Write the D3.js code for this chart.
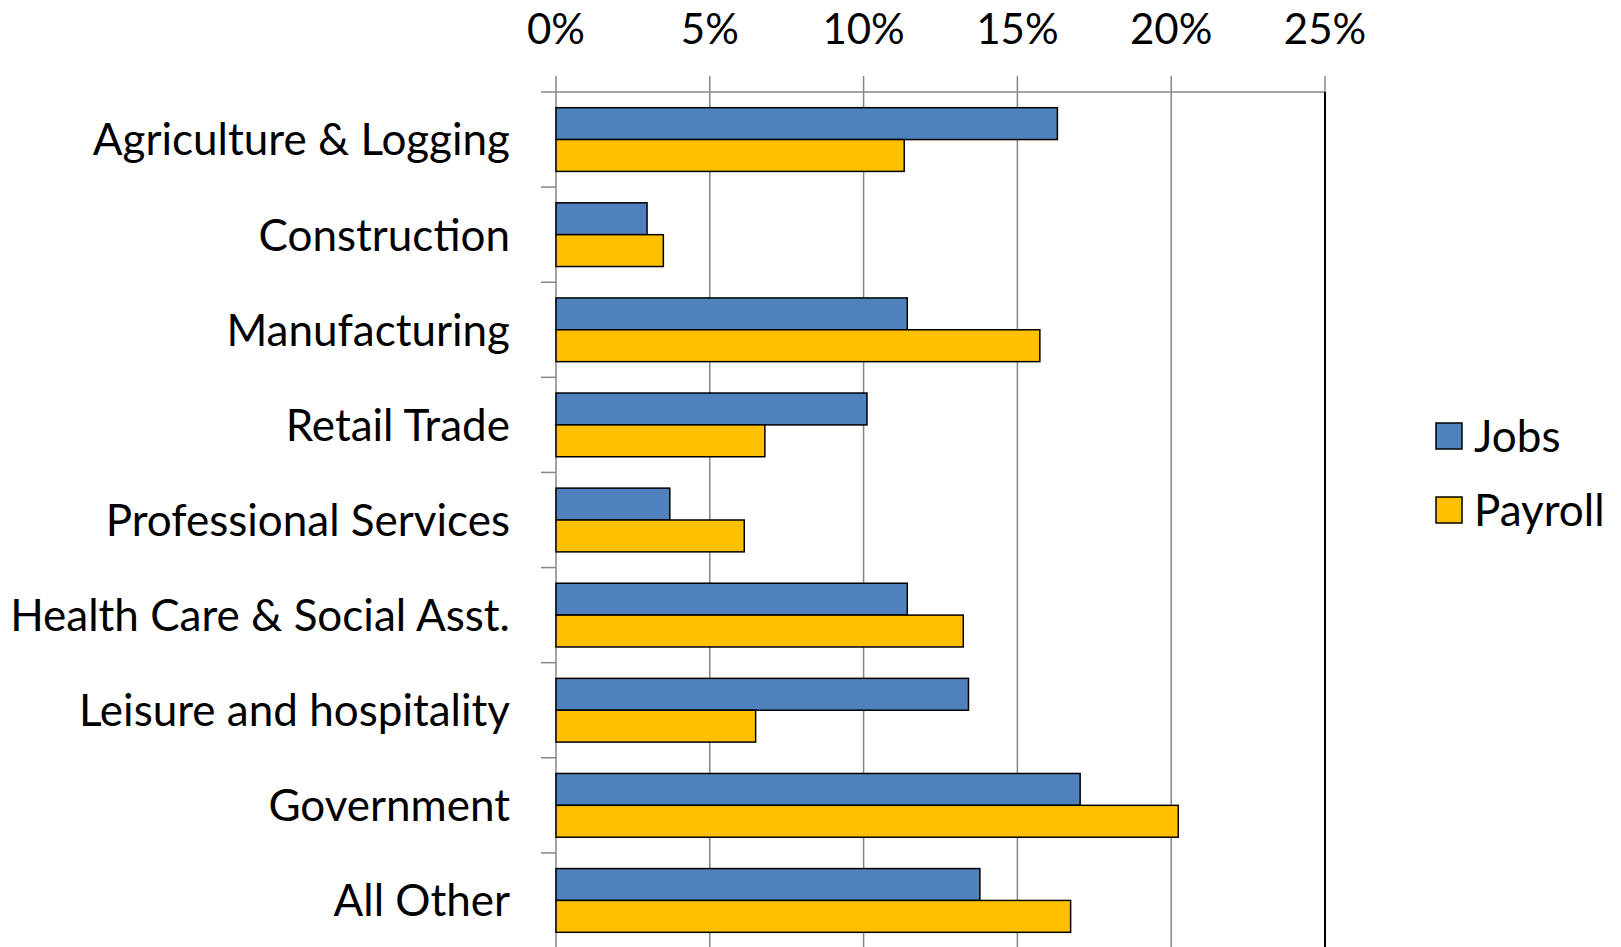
<!DOCTYPE html>
<html lang="en">
<head>
<meta charset="utf-8">
<title>Jobs and Payroll by Industry</title>
<style>
  body { margin: 0; background: #fff; }
  svg text { font-family: Lato, "Open Sans", sans-serif; fill: #000; }
  .grid line { stroke: #868686; stroke-width: 1.5px; }
  .bar { stroke: #000; stroke-width: 1.5px; }
</style>
</head>
<body>
<script src="https://cdnjs.cloudflare.com/ajax/libs/d3/7.8.5/d3.min.js"></script>
<script>
  // data
  const categories = ["Agriculture & Logging", "Construction", "Manufacturing", "Retail Trade",
    "Professional Services", "Health Care & Social Asst.", "Leisure and hospitality",
    "Government", "All Other"];
  const jobs    = [16.3, 2.96, 11.42, 10.11, 3.70, 11.42, 13.41, 17.04, 13.78];
  const payroll = [11.32, 3.49, 15.73, 6.79, 6.12, 13.24, 6.49, 20.23, 16.73];
  const seriesNames = ["Jobs", "Payroll"];
  const seriesColors = ["#4F81BD", "#FFC000"];
  const xTicks = [0, 5, 10, 15, 20, 25];

  const width = 1621, height = 947;
  const plot = {left: 556, right: 1325, top: 92, bottom: 948};

  const svg = d3.select("body").append("svg")
    .attr("width", width)
    .attr("height", height);

  const x = d3.scaleLinear().domain([0, 25]).range([plot.left, plot.right]);
  const y = d3.scaleBand().domain(categories).range([plot.top, plot.bottom]).paddingInner(0.33).paddingOuter(0.165);
  const y0 = d3.scaleBand().domain(categories).range([plot.top, plot.bottom]);
  const ySub = d3.scaleBand().domain(seriesNames).range([0, y.bandwidth()]);

  // vertical gridlines + top ticks
  const grid = svg.append("g").attr("class", "grid");
  grid.selectAll("line.v").data(xTicks).join("line")
    .attr("class", "v")
    .attr("x1", d => x(d)).attr("x2", d => x(d))
    .attr("y1", plot.top - 16).attr("y2", plot.bottom);

  // top axis line
  grid.append("line")
    .attr("x1", plot.left - 15).attr("x2", x(25))
    .attr("y1", plot.top).attr("y2", plot.top);

  // category ticks on the left
  grid.selectAll("line.c").data(categories.slice(1)).join("line")
    .attr("class", "c")
    .attr("x1", plot.left - 15).attr("x2", plot.left)
    .attr("y1", d => y0(d)).attr("y2", d => y0(d));

  // right border
  svg.append("line")
    .attr("x1", x(25)).attr("x2", x(25))
    .attr("y1", plot.top).attr("y2", plot.bottom)
    .attr("stroke", "#000").attr("stroke-width", 2);

  // tick labels
  svg.append("g").selectAll("text").data(xTicks).join("text")
    .attr("x", d => x(d)).attr("y", 44)
    .attr("text-anchor", "middle")
    .attr("font-size", 42)
    .text(d => d + "%");

  // category labels
  svg.append("g").selectAll("text").data(categories).join("text")
    .attr("x", 510)
    .attr("y", d => y0(d) + y0.bandwidth() / 2)
    .attr("dy", "0.36em")
    .attr("text-anchor", "end")
    .attr("font-size", 44)
    .text(d => d);

  // bars
  const rows = categories.map((c, i) => ({cat: c, vals: [jobs[i], payroll[i]]}));
  const groups = svg.append("g").selectAll("g").data(rows).join("g")
    .attr("transform", d => `translate(0,${y(d.cat)})`);
  groups.selectAll("rect").data(d => d.vals.map((v, j) => ({v, s: seriesNames[j], c: seriesColors[j]})))
    .join("rect")
    .attr("class", "bar")
    .attr("x", x(0))
    .attr("y", d => ySub(d.s))
    .attr("width", d => x(d.v) - x(0))
    .attr("height", ySub.bandwidth())
    .attr("fill", d => d.c);

  // legend
  const legend = svg.append("g").selectAll("g").data(seriesNames).join("g")
    .attr("transform", (d, i) => `translate(1436,${423 + i * 74})`);
  legend.append("rect")
    .attr("width", 26).attr("height", 26)
    .attr("fill", (d, i) => seriesColors[i])
    .attr("stroke", "#000").attr("stroke-width", 1.5);
  legend.append("text")
    .attr("x", 38).attr("y", 13).attr("dy", "0.36em")
    .attr("font-size", 44)
    .text(d => d);
</script>
</body>
</html>
